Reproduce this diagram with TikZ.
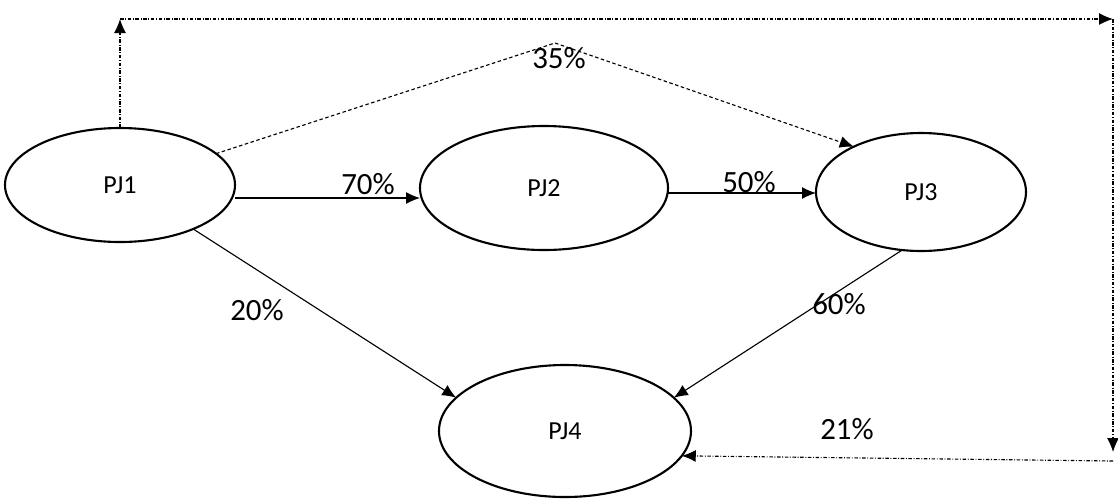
\documentclass[tikz,border=0pt]{standalone}
\usepackage{fontspec}
\setmainfont{Carlito}
\usetikzlibrary{arrows.meta}
\usetikzlibrary{shapes.geometric}
\tikzstyle{base}=[x=0.25mm, y=-0.25mm, inner sep=0pt, outer sep=0pt]
\tikzstyle{pj}=[ellipse, draw, line width=1.5pt, font=\fontsize{18.5}{22}\selectfont]
\tikzstyle{pct}=[font=\fontsize{22}{26}\selectfont]
\tikzstyle{arr}=[-{Latex[length=3.5mm,width=3mm]}, line width=0.8pt]
\tikzstyle{dsh}=[dash pattern=on 2.5pt off 1.8pt, line width=0.7pt]
\tikzstyle{dotdash}=[dash pattern=on 2.5pt off 1.2pt on 0.6pt off 1.2pt, line width=0.7pt]

\begin{document}
\begin{tikzpicture}[base]
    \useasboundingbox (0,0) rectangle (1118,498);
        \node [pj, minimum width=57.5mm, minimum height=28.5mm] (pj1) at (120,185) {PJ1};
        \node [pj, minimum width=62mm, minimum height=31mm] (pj2) at (544,188) {PJ2};
        \node [pj, minimum width=52.5mm, minimum height=29.5mm] (pj3) at (921,192) {PJ3};
        \node [pj, minimum width=63mm, minimum height=33mm] (pj4) at (565,431) {PJ4};
        \coordinate (a12) at ([yshift=-3.25mm]pj1.east);
        \coordinate (a23) at ([yshift=-1.25mm]pj2.east);
        \coordinate (v35) at (555,43);
        \coordinate (tl) at (120,19);
        \coordinate (tr) at (1113,19);
        \coordinate (br) at (1113,461);
        \draw [arr] (a12) -- (a12 -| pj2.west);
        \draw [arr] (a23) -- (a23 -| pj3.west);
        \draw [dsh, arr] (pj1) -- (v35) -- (pj3.146);
        \draw [arr] (pj1.-31) -- (pj4.163);
        \draw [arr] (pj3.-108) -- (pj4.17);
        % loop round the right
        \draw [dotdash, arr] (pj1.north) -- (tl);
        \draw [dotdash, arr] (tl) -- (tr);
        \draw [dotdash, arr, shorten >=2.25mm] (tr) -- (br);
        \draw [dotdash, arr] (br) -- (pj4.-12);
        \node [pct] (l70) at (368,184) {70\%};
        \node [pct] (l50) at (749,182) {50\%};
        \node [pct] (l35) at (559,58) {35\%};
        \node [pct] (l20) at (257,310) {20\%};
        \node [pct] (l60) at (839,304) {60\%};
        \node [pct] (l21) at (847,429) {21\%};
    \end{tikzpicture}
\end{document}
